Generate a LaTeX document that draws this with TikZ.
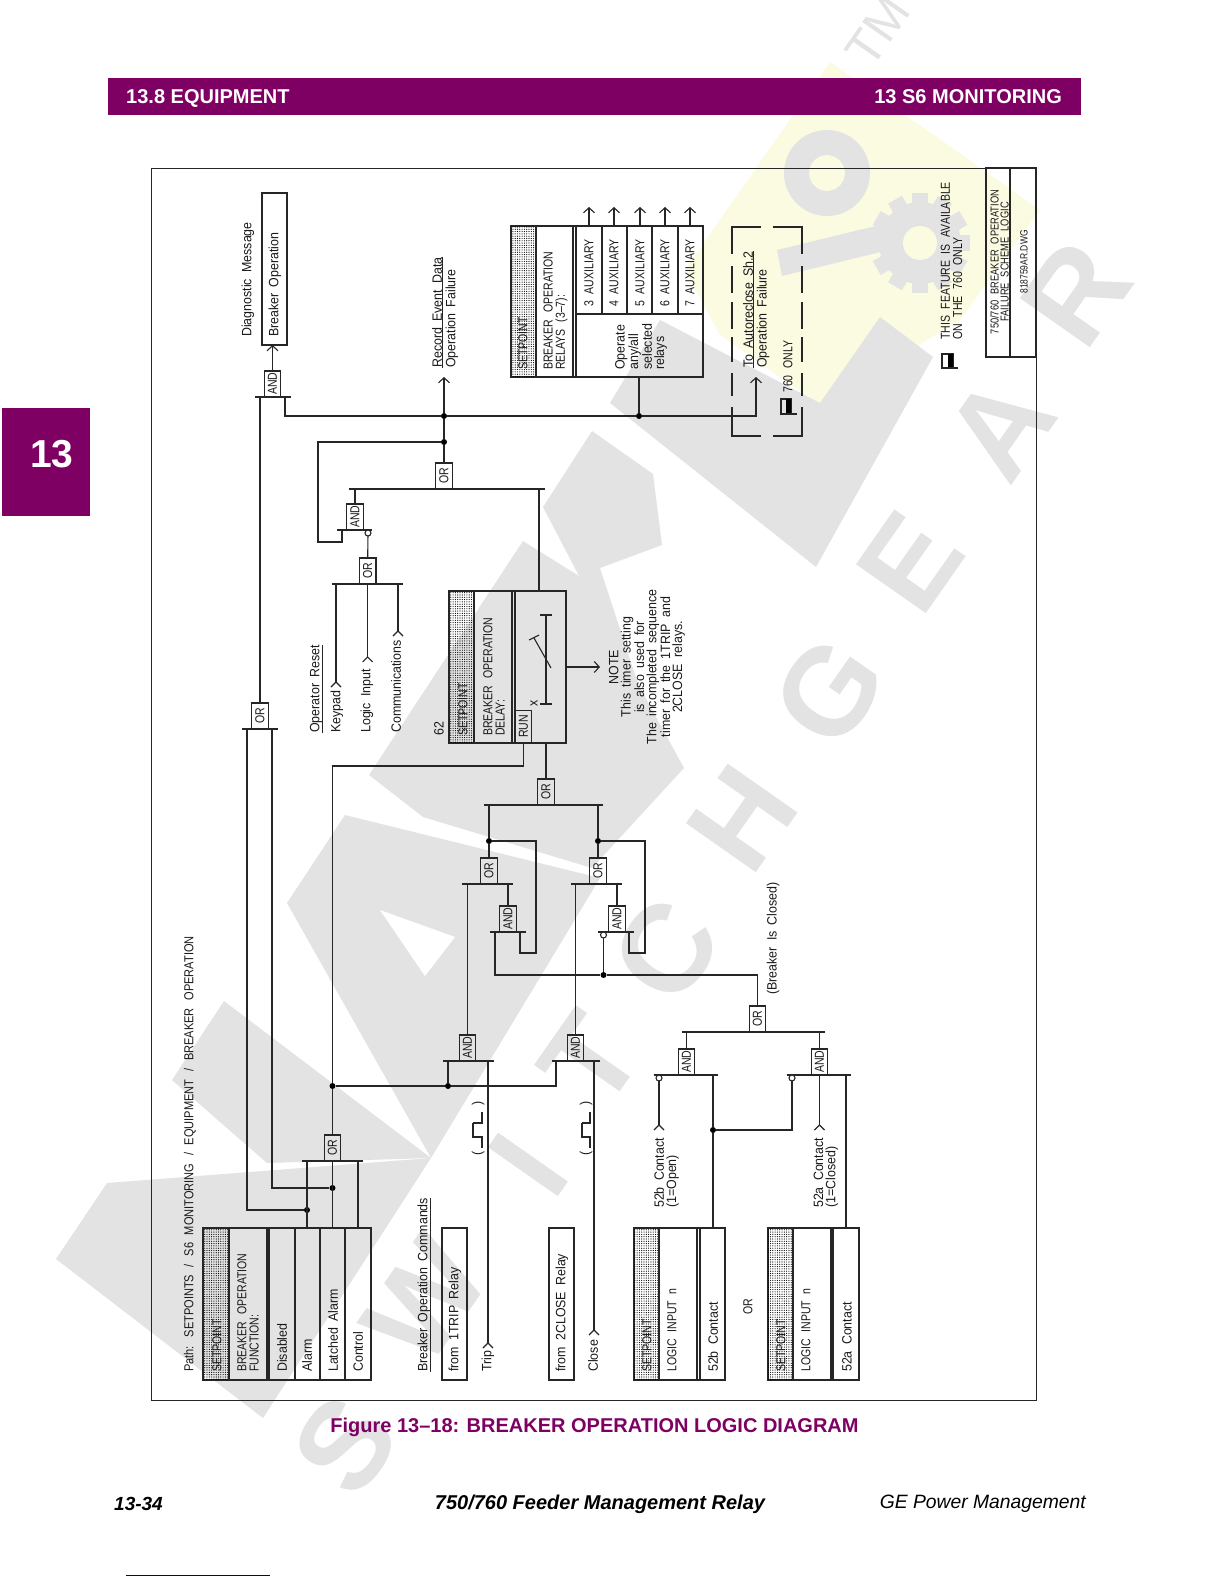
\documentclass[tikz,border=0pt]{standalone}
\usepackage{fontspec}
\setmainfont{Liberation Sans}
\newfontfamily\cadfont[FakeStretch=0.92,WordSpace=1.8]{Liberation Sans}
\newfontfamily\capsfont[FakeStretch=0.81,WordSpace=2.3]{Liberation Sans}
\newfontfamily\pathfont[FakeStretch=0.85,WordSpace=2.5]{Liberation Sans}
\usetikzlibrary{arrows.meta, patterns.meta}
\definecolor{gepurple}{HTML}{7F0063}
\definecolor{wmgray}{HTML}{E3E3E3}
\definecolor{wmyellow}{HTML}{FBFBE2}
\tikzset{
	wire/.style={draw=black!85, line width=1.1pt},
	lbl/.style={rotate=90, anchor=west, inner sep=0pt, align=left, text=black!90, font=\cadfont\fontsize{13.5}{12.2}\selectfont},
	capslbl/.style={lbl, font=\capsfont\fontsize{13}{12.2}\selectfont},
	tinylbl/.style={lbl, align=center, anchor=center, font=\capsfont\fontsize{11.5}{10}\selectfont},
	gate/.style={wire, rotate=90, anchor=west, inner sep=0pt, minimum width=25.5pt, minimum height=16.5pt, text=black!90, font=\capsfont\fontsize{13}{12}\selectfont},
	junction/.style={circle, fill=black, inner sep=0pt, minimum size=6pt},
	bubble/.style={circle, wire, fill=white, inner sep=0pt, minimum size=6pt},
	hatch/.style={pattern={Dots[radius=0.6pt,distance=2.3pt]}, pattern color=black},
	outarrow/.style={wire, -{Straight Barb[length=5pt,width=11pt]}},
	wmletter/.style={rotate=55, inner sep=0pt, text=wmgray, font=\bfseries\fontsize{124}{124}\selectfont},
}
\newcommand{\chevron}[1]{\draw[wire] ([shift={(-5,5)}]#1) -- (#1) -- ([shift={(5,5)}]#1);}
\begin{document}
\begin{tikzpicture}[x=1pt, y=-1pt]
	\useasboundingbox (0,0) rectangle (1224,1584);
	\fill[white] (0,0) rectangle (1224,1584);

	% Watermark
	\fill[wmyellow] (830,62) -- (1040,210) -- (960,320) -- (820,405) -- (720,335) -- (685,270) -- cycle;
	\fill[wmgray] (56,1259) -- (107,1183) -- (431,1158) -- (263,1418) -- cycle;
	\fill[wmgray] (172,1080) -- (224,1001) -- (431,1158) -- (267,1163) -- cycle;
	\fill[wmgray] (287,903) -- (345,815) -- (600,878) -- (431,1158) -- cycle;
	\fill[white] (380,910) -- (455,937) -- (425,976) -- cycle;
	\fill[wmgray] (369,775) -- (523,541) -- (579,576) -- (684,768) -- (592,868) -- (423,817) -- cycle;
	\fill[wmgray] (592,431) -- (653,474) -- (662,545) -- (600,568) -- (640,690) -- (579,576) -- (543,507) -- cycle;
	\fill[wmgray] (610,403) -- (660,320) -- (820,403) -- (880,317) -- (933,357) -- (816,567) -- cycle;
	\fill[wmgray, even odd rule] (827,173) circle (43pt) (827,173) circle (18pt);
	\fill[wmgray] (777,250) -- (925,214) -- (930,240) -- (782,276) -- cycle;
	\fill[wmgray] (920,243) circle (41pt);
	\foreach \a in {0,30,...,330} {
		\fill[wmgray, rotate around={\a:(920,243)}] (912,193) rectangle (928,215);
	}
	\fill[wmyellow] (920,243) circle (17pt);
	\foreach \c/\x/\y in {S/345/1445, W/425/1300, I/528/1165, T/590/1060, C/666/950, H/742/818, G/829/692, E/910/562, A/1000/427, R/1076/293} {
		\node[wmletter] (wm\c) at (\x,\y) {\c};
	}
	\node[wmletter, font=\fontsize{50}{50}\selectfont] (wmtm) at (878,31) {TM};

	% Page furniture
	\fill[gepurple] (108,78) rectangle (1081,115);
	\fill[gepurple] (2,408) rectangle (90,516);
	\node[anchor=base west, inner sep=0pt, text=white, font=\bfseries\fontsize{20}{20}\selectfont] (headl) at (126,103.5) {13.8 EQUIPMENT};
	\node[anchor=base east, inner sep=0pt, text=white, font=\bfseries\fontsize{20}{20}\selectfont] (headr) at (1062,103.5) {13 S6 MONITORING};
	\node[text=white, font=\bfseries\fontsize{39}{39}\selectfont, inner sep=0pt] (tabnum) at (52,454) {13};
	\node[text=gepurple, font=\bfseries\fontsize{20}{20}\selectfont, inner sep=0pt] (caption) at (594.5,1427.5) {Figure 13–18: BREAKER OPERATION LOGIC DIAGRAM};
	\node[anchor=west, inner sep=0pt, font=\bfseries\itshape\fontsize{19}{19}\selectfont] (footl) at (114,1504) {13-34};
	\node[inner sep=0pt, font=\bfseries\itshape\fontsize{20}{20}\selectfont] (footc) at (600,1504) {750/760 Feeder Management Relay};
	\node[anchor=east, inner sep=0pt, font=\itshape\fontsize{19.3}{19.3}\selectfont] (footr) at (1086,1504) {GE Power Management};
	\draw[blue!50!black, line width=0.8pt] (126,1575) -- (270,1575);

	% Drawing frame and title block
	\draw[wire, line width=0.9pt] (151,168) rectangle (1036,1400);
	\draw[wire] (986,168) rectangle (1036,357);
	\draw[wire] (1010,168) -- (1010,357);
	\node[tinylbl] (titlea) at (999.5,262) {750/760 BREAKER OPERATION\\FAILURE SCHEME LOGIC};
	\node[tinylbl, font=\capsfont\fontsize{10.5}{10}\selectfont] (titleb) at (1024,262) {818759AR.DWG};
	\node[capslbl] (feature) at (951.5,340) {THIS FEATURE IS AVAILABLE\\ON THE 760 ONLY};
	\draw[wire] (942,354) rectangle (953,368);
	\fill[black] (948,354) rectangle (953,368);
	\draw[wire] (942,368) -- (958,368);

	% Setpoint boxes (left, right, dividers)
	\foreach \a/\b/\t/\bot in {203/371/1228/1380, 634/725/1228/1380, 768/859/1228/1380, 449/566/591/743, 511/703/226/377} {
		\draw[wire] (\a,\t) rectangle (\b,\bot);
	}
	\foreach \a/\b/\t/\bot in {203/229/1228/1380, 634/659/1228/1380, 768/793/1228/1380, 449/474/591/743, 511/536/226/377} {
		\fill[hatch] (\a,\t) rectangle (\b,\bot);
		\draw[wire] (\b,\t) -- (\b,\bot);
	}
	\foreach \x in {267,269,295,320,345} {\draw[wire] (\x,1228) -- (\x,1380);}
	\foreach \x in {697,700,831,833} {\draw[wire] (\x,1228) -- (\x,1380);}
	\foreach \x in {512,515} {\draw[wire] (\x,591) -- (\x,743);}
	\foreach \x in {573,576} {\draw[wire] (\x,226) -- (\x,377);}
	\foreach \x in {602,627,652,678} {\draw[wire] (\x,226) -- (\x,314);}
	\draw[wire] (576,314) -- (703,314);
	\draw[wire] (442,1228) rectangle (467,1380);
	\draw[wire] (549,1228) rectangle (574,1380);
	\draw[wire] (262,193) rectangle (287,345);

	% Box texts
	\foreach \n/\x/\y in {a/217/1372, b/647/1372, c/781/1372, d/463/736, e/523/370} {
		\node[capslbl] (setpt\n) at (\x,\y) {SETPOINT};
	}
	\node[lbl, font=\pathfont\fontsize{13}{12}\selectfont] (path) at (190,1372) {Path: SETPOINTS / S6 MONITORING / EQUIPMENT / BREAKER OPERATION};
	\node[capslbl] (funcname) at (248,1372) {BREAKER OPERATION\\FUNCTION:};
	\node[lbl] (fdis) at (282,1372) {Disabled};
	\node[lbl] (falarm) at (307,1372) {Alarm};
	\node[lbl] (flatch) at (333,1372) {Latched Alarm};
	\node[lbl] (fctrl) at (358,1372) {Control};
	\node[lbl] (cmds) at (424,1372) {Breaker Operation Commands};
	\draw[wire] (cmds.south west) -- (cmds.south east);
	\node[lbl] (ftrip) at (455,1372) {from 1TRIP Relay};
	\node[lbl] (trip) at (488,1372) {Trip};
	\node[lbl] (fclose) at (562,1372) {from 2CLOSE Relay};
	\node[lbl] (close) at (593,1372) {Close};
	\node[capslbl] (inb) at (672,1372) {LOGIC INPUT n};
	\node[lbl] (ctb) at (713,1372) {52b Contact};
	\node[capslbl] (orword) at (748,1315) {OR};
	\node[capslbl] (ina) at (806,1372) {LOGIC INPUT n};
	\node[lbl] (cta) at (847,1372) {52a Contact};
	\node[lbl] (lblb) at (666.5,1208) {52b Contact\\(1=Open)};
	\node[lbl] (lbla) at (826,1208) {52a Contact\\(1=Closed)};
	\node[lbl] (closed) at (773,995) {(Breaker Is Closed)};
	\node[capslbl] (delayname) at (494,736) {BREAKER OPERATION\\DELAY:};
	\node[lbl] (sixtytwo) at (439,736) {62};
	\node[lbl, anchor=center] (xmark) at (534,703) {x};
	\node[lbl, anchor=center, align=center] (note) at (647,667) {NOTE\\This timer setting\\is also used for\\The incompleted sequence\\timer for the 1TRIP and\\2CLOSE relays.};
	\node[lbl] (oprst) at (316,733) {Operator Reset};
	\draw[wire] (oprst.south west) -- (oprst.south east);
	\node[lbl] (keypad) at (337,733) {Keypad};
	\node[lbl] (logicin) at (367,733) {Logic Input};
	\node[lbl] (comms) at (396,733) {Communications};
	\node[lbl] (diagmsg) at (248,337) {Diagnostic Message};
	\node[lbl] (brkop) at (275,337) {Breaker Operation};
	\node[lbl] (record) at (437,368) {Record Event Data};
	\draw[wire] (record.south west) -- (record.south east);
	\node[lbl] (opfaila) at (452,368) {Operation Failure};
	\node[capslbl] (relname) at (555.5,370) {BREAKER OPERATION\\RELAYS (3–7):};
	\node[lbl] (operate) at (641,370) {Operate\\any/all\\selected\\relays};
	\foreach \n/\x in {3/589, 4/614, 5/640, 6/665, 7/690} {
		\node[capslbl] (aux\n) at (\x,307) {\n\ AUXILIARY};
		\coordinate (relout\n) at (\x,226);
		\coordinate (reltip\n) at (\x,207);
		\draw[outarrow] (relout\n) -- (reltip\n);
	}

	% Autoreclose group (760 only)
	\draw[wire] (761,227) -- (732,227) -- (732,254);
	\draw[wire] (773,227) -- (802,227) -- (802,254);
	\draw[wire] (761,436) -- (732,436) -- (732,407);
	\draw[wire] (773,436) -- (802,436) -- (802,407);
	\foreach \a/\b in {266/293, 302/329, 337/362, 373/396} {
		\draw[wire] (732,\a) -- (732,\b);
		\draw[wire] (802,\a) -- (802,\b);
	}
	\node[lbl] (autorec) at (748,368) {To Autoreclose Sh.2};
	\draw[wire] (autorec.south west) -- (autorec.south east);
	\node[lbl] (opfailb) at (763,368) {Operation Failure};
	\node[capslbl] (only) at (788,393) {760 ONLY};
	\draw[wire] (781,399) rectangle (791,414);
	\fill[black] (786,399) rectangle (791,414);
	\draw[wire] (781,414) -- (797,414);

	% Gate bars
	\foreach \a/\b/\y in {302/363/1161, 242/278/729, 255/291/397, 349/545/489, 337/372/530, 332/403/584, 484/603/805, 462/513/884, 490/526/932, 571/622/884, 598/634/932, 443/494/1061, 552/600/1061, 682/825/1032, 654/718/1075, 787/851/1075} {
		\draw[wire] (\a,\y) -- (\b,\y);
	}

	% Gates
	\node[gate] (orfunc) at (332.5,1161) {OR};
	\node[gate] (orup) at (260,729) {OR};
	\node[gate] (anddiag) at (272.5,397) {AND};
	\node[gate] (ortop) at (444,489) {OR};
	\node[gate] (andrst) at (355,530) {AND};
	\node[gate] (orrst) at (367.7,584) {OR};
	\node[gate] (ordelay) at (546,805) {OR};
	\node[gate] (orone) at (489,884) {OR};
	\node[gate] (ortwo) at (598,884) {OR};
	\node[gate] (andone) at (508,932) {AND};
	\node[gate] (andtwo) at (617,932) {AND};
	\node[gate] (andtrip) at (467.5,1061) {AND};
	\node[gate] (andclose) at (575.5,1061) {AND};
	\node[gate] (orclosed) at (757.5,1032) {OR};
	\node[gate] (andb) at (686.5,1075) {AND};
	\node[gate] (anda) at (819.5,1075) {AND};
	\node[gate, minimum width=32pt] (runbox) at (523.5,743) {RUN};

	% Junctions
	\foreach \n/\x/\y in {jfa/307/1210, jfb/332.5/1188, jrun/332.5/1086, jand/448/1086, jrec/444/416, jlatch/444/442, jrel/639/416, jfba/489/841, jfbb/598/841, jclosed/603.5/975, jcontact/713/1130} {
		\node[junction] (\n) at (\x,\y) {};
	}

	% Pins and free ends
	\foreach \n/\x/\y in {pfa/307/1161, pfb/332.5/1161, pfc/358/1161, bfa/307/1228, bfb/332.5/1228, bfc/358/1228,
		pua/247/729, pub/272/729, pda/260/397, pdb/285/397, diagin/272.5/345, recin/444/377, autoin/756/377, relin/639/377,
		plc/318/542, pla/342/530, ptl/355/489, ptr/539/489, timertop/539/591, timerout/546/743, runturn/332.5/766,
		prk/336/584, prl/367.7/584, prc/398/584, chk/336/682, chl/367.7/657, chc/398/631,
		dla/489/805, dlb/598/805, pol/467.5/884, por/508/884, ptl2/575.5/884, ptr2/617/884,
		ana/495/932, anb/520/932, fba/536/953, aob/629/932, fbb/645/953,
		otl/448/1061, otr/488/1061, chtrip/488/1343, ocl/556/1061, ocr/594/1061, chclose/594/1330,
		pcl/686.5/1032, pcr/819.5/1032, pbr/713/1075, bcb/713/1228, par/846/1075, bca/846/1228, pam/819.5/1075,
		chb/659/1125, cha/819.5/1125, tmout/566/667, tmtip/600/667,
		brstp/368/533, bbtwop/603.5/935, bbbp/659/1078, bbap/792/1078} {
		\coordinate (\n) at (\x,\y);
	}

	% Function box to OR and feeders
	\draw[wire] (bfa) -- (pfa);
	\draw[wire] (bfb) -- (pfb);
	\draw[wire] (bfc) -- (pfc);
	\draw[wire] (jfa) -| (pua);
	\draw[wire] (jfb) -| (pub);
	\draw[wire] (orup.east) -- (pda);
	\draw[outarrow] (anddiag.east) -- (diagin);
	\draw[wire] (orfunc.east) -- (jrun) -- (runturn) -| (runbox.west);
	\draw[wire] (jrun) -- (jand) -| (ocl);
	\draw[wire] (jand) -- (otl);

	% Output bus
	\draw[wire] (pdb) |- (jrec) -- (jrel);
	\draw[outarrow] (jrel) -| (autoin);
	\draw[wire] (jrel) -- (relin);
	\draw[outarrow] (ortop.east) -- (jlatch) -- (jrec) -- (recin);
	\draw[wire] (jlatch) -| (plc) -| (pla);
	\draw[wire] (andrst.east) -- (ptl);
	\draw[wire] (orrst.east) -- (brstp);
	\draw[wire] (ptr) -- (timertop);

	% Operator reset inputs
	\draw[wire] (prk) -- (chk); \chevron{chk}
	\draw[wire] (prl) -- (chl); \chevron{chl}
	\draw[wire] (prc) -- (chc); \chevron{chc}

	% Timer symbol
	\draw[wire] (timerout) -- (ordelay.east);
	\draw[outarrow] (tmout) -- (tmtip);
	\draw[wire] (546,615) -- (546,704);
	\draw[wire] (540,615) -- (552,615);
	\draw[wire] (540,704) -- (552,704);
	\draw[wire] (551,668) -- (534,638);
	\draw[wire] (529,640) -- (539,635);

	% Seal-in logic
	\draw[wire] (dla) -- (jfba) -- (orone.east);
	\draw[wire] (dlb) -- (jfbb) -- (ortwo.east);
	\draw[wire] (pol) -- (andtrip.east);
	\draw[wire] (ptl2) -- (andclose.east);
	\draw[wire] (por) -- (andone.east);
	\draw[wire] (ptr2) -- (andtwo.east);
	\draw[wire] (anb) |- (fba) |- (jfba);
	\draw[wire] (aob) |- (fbb) |- (jfbb);
	\draw[wire] (ana) |- (jclosed) -| (orclosed.east);
	\draw[wire] (jclosed) -- (bbtwop);

	% Trip and close commands
	\draw[wire] (otr) -- (chtrip); \chevron{chtrip}
	\draw[wire] (ocr) -- (chclose); \chevron{chclose}
	\draw[wire] (473,1123) -- (482,1123) -- (482,1112);
	\draw[wire] (482,1148) -- (482,1137) -- (473,1137) -- (473,1123);
	\draw[wire] (582,1123) -- (590,1123) -- (590,1112);
	\draw[wire] (590,1148) -- (590,1137) -- (582,1137) -- (582,1123);
	\node[lbl, anchor=center] (pta) at (478,1153) {(};
	\node[lbl, anchor=center] (ptb) at (478,1103) {)};
	\node[lbl, anchor=center] (pca) at (586,1153) {(};
	\node[lbl, anchor=center] (pcb) at (586,1103) {)};

	% Breaker contacts
	\draw[wire] (pcl) -- (andb.east);
	\draw[wire] (pcr) -- (anda.east);
	\draw[wire] (bbbp) -- (chb); \chevron{chb}
	\draw[wire] (pam) -- (cha); \chevron{cha}
	\draw[wire] (pbr) -- (jcontact) -- (bcb);
	\draw[wire] (jcontact) -| (bbap);
	\draw[wire] (par) -- (bca);

	% Inversion bubbles on top of the wires
	\foreach \n/\x/\y in {brst/368/533, bbtwo/603.5/935, bbb/659/1078, bba/792/1078} {
		\node[bubble] (\n) at (\x,\y) {};
	}
\end{tikzpicture}
\end{document}
